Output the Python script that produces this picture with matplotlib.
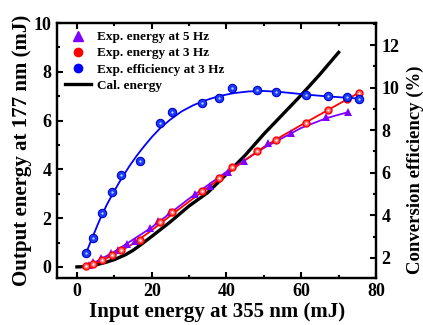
import matplotlib

matplotlib.use("Agg")
import matplotlib.pyplot as plt
from matplotlib.lines import Line2D
from matplotlib.ticker import MultipleLocator

# 5 Hz measured output energy (left axis)
x_5hz = [3.2, 4.4, 6.5, 9.0, 11.0, 13.5, 15.5, 19.5, 21.7, 24.8, 31.5, 35.5,
         40.5, 44.8, 51.1, 57.3, 66.7, 72.6]
e_5hz = [0.08, 0.22, 0.35, 0.58, 0.70, 0.92, 1.08, 1.60, 1.90, 2.25, 3.00, 3.30,
         3.90, 4.35, 5.10, 5.50, 6.13, 6.34]
fit_5hz_x = [3.2, 10, 20, 30, 40, 50, 60, 66.7, 72.6]
fit_5hz_y = [0.05, 0.62, 1.62, 2.80, 3.90, 4.88, 5.70, 6.10, 6.35]

# 3 Hz measured output energy (left axis) and efficiency (right axis)
x_3hz = [2.4, 4.2, 6.6, 9.5, 11.9, 16.8, 22.3, 25.5, 33.4, 38.0, 41.4, 48.2,
         53.3, 61.3, 67.2, 72.2, 75.5]
e_3hz = [0.05, 0.12, 0.27, 0.48, 0.70, 1.10, 1.85, 2.25, 3.10, 3.63, 4.10, 4.75,
         5.22, 5.92, 6.45, 6.90, 7.12]
eff_3hz = [2.25, 2.91, 4.13, 5.11, 5.90, 6.55, 8.35, 8.84, 9.26, 9.53, 10.0, 9.89,
           9.78, 9.65, 9.62, 9.57, 9.46]
fit_3hz_x = [2.4, 5, 10, 15, 20, 25, 30, 35, 40, 45, 50, 55, 60, 65, 70, 75.5]
fit_3hz_y = [0.02, 0.15, 0.50, 0.95, 1.50, 2.10, 2.68, 3.25, 3.82, 4.38, 4.92,
             5.38, 5.82, 6.25, 6.68, 7.15]
fit_eff_x = [2.5, 4, 6, 8, 10, 12, 14, 16, 18, 20, 22.3, 25, 28, 31, 34, 38, 42,
             46, 50, 54, 58, 62, 66, 70, 75.5]
fit_eff_y = [2.25, 2.9, 3.75, 4.5, 5.15, 5.75, 6.3, 6.8, 7.25, 7.67, 8.1, 8.5,
             8.88, 9.16, 9.38, 9.6, 9.74, 9.82, 9.84, 9.8, 9.73, 9.66, 9.6, 9.55,
             9.48]

# calculated energy (left axis)
cal_x = [0, 2, 5, 8, 10, 13, 15, 17, 20, 25, 30, 35, 40, 45, 50, 55, 60, 65, 70]
cal_y = [0.0, 0.01, 0.08, 0.2, 0.3, 0.5, 0.68, 0.9, 1.25, 1.85, 2.5, 3.05, 3.8,
         4.58, 5.45, 6.25, 7.05, 7.9, 8.8]

PURPLE = "#8000ff"
RED = "#ff0000"
BLUE = "#0000ff"

plt.rcParams["font.family"] = ["Liberation Serif", "DejaVu Serif"]
plt.rcParams["font.weight"] = "bold"

fig = plt.figure(figsize=(4.23, 3.25), dpi=100)
ax = fig.add_axes([0.135, 0.145, 0.754, 0.784])
ax2 = ax.twinx()

ax.plot(cal_x, cal_y, color="black", linewidth=2.4, zorder=2)
ax.plot(fit_5hz_x, fit_5hz_y, color=PURPLE, linewidth=1.3, zorder=3)
ax.plot(fit_3hz_x, fit_3hz_y, color=RED, linewidth=1.3, zorder=4)
ax.plot(x_5hz, e_5hz, linestyle="none", marker="^", markersize=5.5,
        color=PURPLE, markeredgewidth=0, zorder=5)
ax.plot(x_3hz, e_3hz, linestyle="none", marker="o", markersize=5,
        markerfacecolor="#ff6060", markeredgecolor=RED, markeredgewidth=1.0, zorder=6)
ax.plot(x_3hz, e_3hz, linestyle="none", marker="o", markersize=1.6,
        color="white", markeredgewidth=0, zorder=7)

ax2.plot(fit_eff_x, fit_eff_y, color=BLUE, linewidth=1.3, zorder=3)
ax2.plot(x_3hz, eff_3hz, linestyle="none", marker="o", markersize=6,
         markerfacecolor="#1a3cff", markeredgecolor="#0000c8", markeredgewidth=0.8,
         zorder=5)
ax2.plot(x_3hz, eff_3hz, linestyle="none", marker="o", markersize=1.6,
         color="#c8d8ff", markeredgewidth=0, zorder=6)

ax.set_xlim(-5.3, 80)
ax.set_ylim(-0.45, 10)
ax2.set_ylim(1.06, 13.03)

ax.xaxis.set_major_locator(MultipleLocator(20))
ax.xaxis.set_minor_locator(MultipleLocator(10))
ax.yaxis.set_major_locator(MultipleLocator(2))
ax.yaxis.set_minor_locator(MultipleLocator(1))
ax2.yaxis.set_major_locator(MultipleLocator(2))
ax2.yaxis.set_minor_locator(MultipleLocator(1))

ax.tick_params(axis="x", which="both", direction="in", top=True, labelsize=13,
               width=1.5, pad=4)
ax.tick_params(axis="x", which="major", length=4)
ax.tick_params(axis="x", which="minor", length=2.5)
ax.tick_params(axis="y", which="both", direction="in", right=False, labelsize=13,
               width=1.5, pad=4)
ax.tick_params(axis="y", which="major", length=4)
ax.tick_params(axis="y", which="minor", length=2.5)
ax2.tick_params(axis="y", which="both", direction="in", labelsize=13, width=1.5, pad=4)
ax2.tick_params(axis="y", which="major", length=4)
ax2.tick_params(axis="y", which="minor", length=2.5)

for a in (ax, ax2):
    for spine in a.spines.values():
        spine.set_linewidth(1.6)

ax.set_xlabel("Input energy at 355 nm (mJ)", fontsize=15, fontweight="bold",
              labelpad=1)
ax.set_ylabel("Output energy at 177 nm (mJ)", fontsize=15, fontweight="bold",
              labelpad=1)
ax2.set_ylabel("Conversion efficiency (%)", fontsize=13.5, fontweight="bold")
ax2.yaxis.set_label_coords(1.095, 0.425)

handles = [
    Line2D([], [], linestyle="none", marker="^", markersize=6.5, color=PURPLE),
    Line2D([], [], linestyle="none", marker="o", markersize=6, color=RED),
    Line2D([], [], linestyle="none", marker="o", markersize=6, color=BLUE),
    Line2D([], [], color="black", linewidth=2.4),
]
labels = ["Exp. energy at 5 Hz", "Exp. energy at 3 Hz", "Exp. efficiency at 3 Hz",
          "Cal. energy"]
ax2.legend(handles, labels, loc="upper left", frameon=False,
           handlelength=2.0, handletextpad=0.45, labelspacing=0.3,
           borderaxespad=0.2, prop={"weight": "bold", "size": 9.5})

fig.savefig("out.png", dpi=100)
